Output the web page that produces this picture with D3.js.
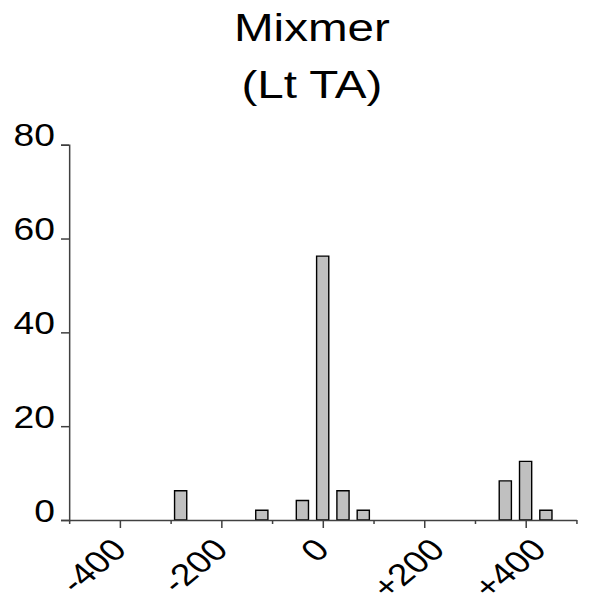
<!DOCTYPE html>
<html>
<head>
<meta charset="utf-8">
<script src="https://cdn.jsdelivr.net/npm/d3@7"></script>
<style>
  body { margin: 0; background: #fff; }
  text { font-family: "Liberation Sans", Arial, sans-serif; }
</style>
</head>
<body>
<div class="chartHolder"></div>
<script>
// chart values
const titleLines = ["Mixmer", "(Lt TA)"];
const binCenters = [-280, -120, -40, 0, 40, 80, 360, 400, 440];
const percents = [6.25, 2.08, 4.17, 56.25, 6.25, 2.08, 8.33, 12.5, 2.08];
const xMajorTicks = [-400, -200, 0, 200, 400];
const xMajorLabels = ["-400", "-200", "0", "+200", "+400"];
const xMinorTicks = [-500, -300, -100, 100, 300, 500];
const yTicks = [0, 20, 40, 60, 80];

let width = 591,
  height = 604,
  stretch = 1.22, // picture is wider than the glyphs suggest
  barSpan = 24;

let svgChart = d3
  .select(".chartHolder")
  .append("svg")
  .attr("width", width)
  .attr("height", height);

// everything drawn in a horizontally stretched group
let g = svgChart.append("g").attr("transform", `scale(${stretch},1)`);

let xScale = d3.scaleLinear().domain([-500, 500]).range([56.6, 472.4]);
let yScale = d3.scaleLinear().domain([0, 80]).range([520, 144.7]);

// title
g.append("text")
  .attr("text-anchor", "middle")
  .style("font-size", "39px")
  .selectAll("tspan")
  .data(titleLines)
  .enter()
  .append("tspan")
  .attr("x", 255.7)
  .attr("y", (d, i) => 41 + i * 57)
  .text((d) => d);

// bars
g.selectAll("rect.bar")
  .data(percents)
  .enter()
  .append("rect")
  .attr("class", "bar")
  .attr("x", (d, i) => xScale(binCenters[i] - barSpan / 2))
  .attr("width", (d, i) => xScale(binCenters[i] + barSpan / 2) - xScale(binCenters[i] - barSpan / 2))
  .attr("y", (d) => yScale(d))
  .attr("height", (d) => yScale(0) - yScale(d))
  .style("fill", "#c0c0c0")
  .style("stroke", "#000")
  .style("stroke-width", 1.4)
  .attr("vector-effect", "non-scaling-stroke");

// y axis
let yAxis = d3.axisLeft(yScale).tickValues(yTicks).tickSize(6.6).tickPadding(5);
let yAxisGroup = g.append("g")
  .attr("transform", `translate(${xScale(-500)},0)`)
  .call(yAxis);
yAxisGroup.selectAll("text")
  .attr("dy", "1")
  .style("font-size", "30.5px")
  .style("fill", "#000");

// x axis, minor ticks first then major with labels
let xMinor = d3.axisBottom(xScale).tickValues(xMinorTicks).tickSize(4).tickSizeOuter(0).tickFormat("");
g.append("g")
  .attr("transform", `translate(0,${yScale(0)})`)
  .call(xMinor);

let xAxis = d3.axisBottom(xScale).tickValues(xMajorTicks).tickSize(8).tickSizeOuter(0)
  .tickFormat((d, i) => xMajorLabels[i]);
let xAxisGroup = g.append("g")
  .attr("transform", `translate(0,${yScale(0)})`)
  .call(xAxis);
xAxisGroup.select(".domain").remove();
xAxisGroup.selectAll("text")
  .attr("text-anchor", "end")
  .attr("dy", null)
  .attr("y", null)
  .attr("transform", (d) => `translate(${d > 0 ? 18 : 6.5},31.5) rotate(-45)`)
  .style("font-size", "30.5px")
  .style("fill", "#000");

g.selectAll(".domain, .tick line")
  .style("stroke", "#404040")
  .style("stroke-width", 1.5)
  .attr("vector-effect", "non-scaling-stroke");
</script>
</body>
</html>
